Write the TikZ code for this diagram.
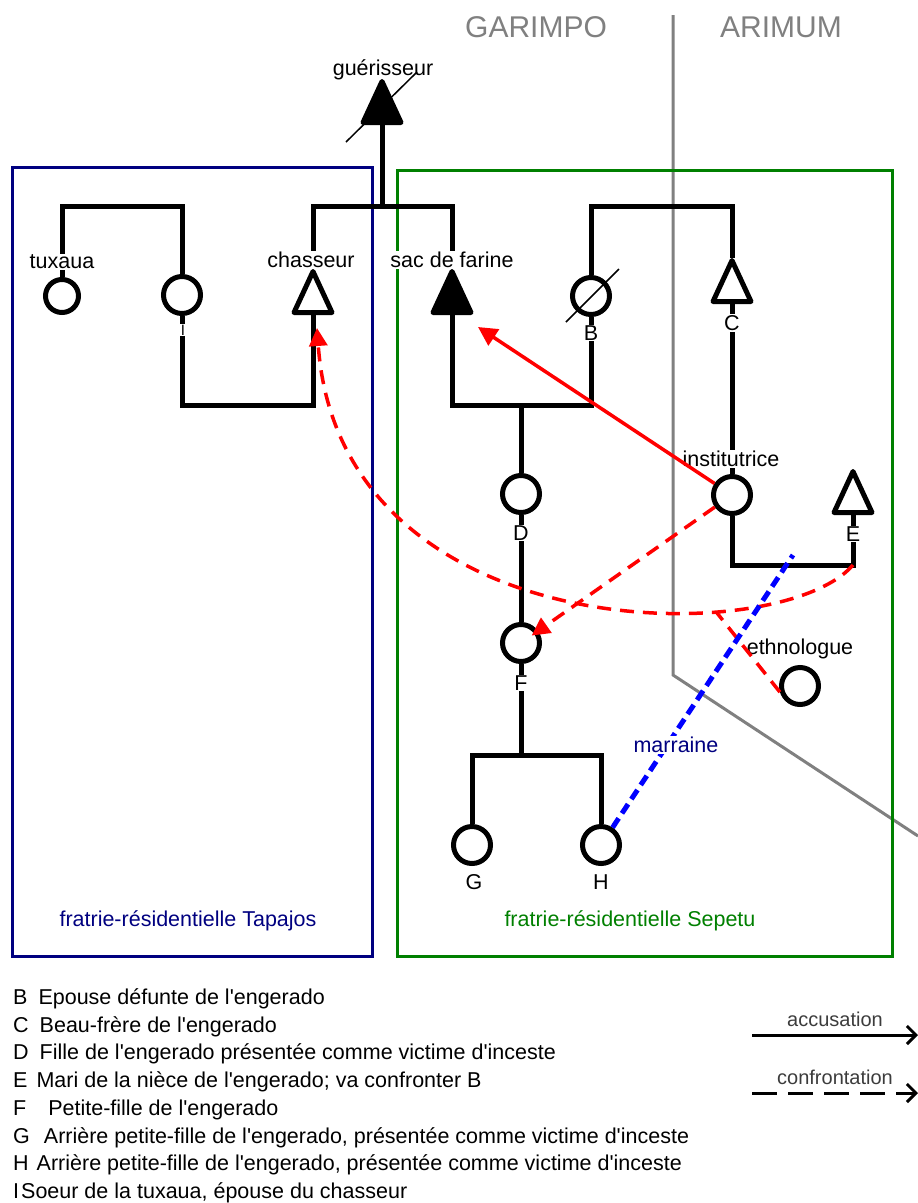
\documentclass[tikz,border=0pt]{standalone}
\usepackage{fontspec}
\setmainfont{Liberation Sans}
\usetikzlibrary{arrows.meta}
\definecolor{bleunuit}{RGB}{0,0,128}
\definecolor{vertfratrie}{RGB}{0,128,0}
\definecolor{grisligne}{RGB}{128,128,128}
\definecolor{grislegende}{RGB}{60,60,60}
\newcommand{\apo}{\textquotesingle}
\tikzset{
  lien/.style={line width=5pt},
  femme/.style={circle, draw, line width=5pt, fill=white, minimum size=37pt, inner sep=0pt},
  nom/.style={fill=white, inner sep=1pt, font=\fontsize{21.5}{24}\selectfont},
  barre/.style={line width=1.5pt},
  accus/.style={red, line width=3.5pt, -{Triangle[length=19pt,width=19pt]}},
  confr/.style={red, line width=3.5pt, dash pattern=on 14pt off 9pt},
  pointe/.style={-{Triangle[length=18pt,width=18pt]}},
  marraine/.style={blue, line width=5pt, dash pattern=on 11pt off 6pt},
  legende/.style={anchor=base west, inner sep=0pt, font=\fontsize{21.5}{24}\selectfont},
  pics/homme/.style={code={
    \draw[line width=5pt, line join=round, fill=#1] (0,-21) -- (19,20) -- (-19,20) -- cycle;
    \coordinate (-haut) at (0,-23.5);
    \coordinate (-bas) at (0,22.5);
  }}
}
\begin{document}
\begin{tikzpicture}[x=1pt, y=-1pt]
    \useasboundingbox (0,0) rectangle (918,1203);

    % Zones
    \draw[grisligne, line width=3pt] (673,15) -- (673,675) -- (918,836);
    \node[grisligne, font=\fontsize{30}{32}\selectfont] (garimpo) at (536,27) {GARIMPO};
    \node[grisligne, font=\fontsize{30}{32}\selectfont] (arimum) at (781,27) {ARIMUM};

    % Fratries
    \draw[bleunuit, line width=3pt] (12,167) rectangle (372,956);
    \draw[vertfratrie, line width=3pt] (397,170) rectangle (892,956);
    \node[nom, text=bleunuit] (tapajos) at (188,921) {fratrie-résidentielle Tapajos};
    \node[nom, text=vertfratrie] (sepetu) at (630,921) {fratrie-résidentielle Sepetu};

    % Hommes
    \pic (guerisseur) at (382,102.5) {homme=black};
    \pic (chasseur) at (313,292.5) {homme=white};
    \pic (sac) at (452,292.5) {homme=black};
    \pic (C) at (732,281.5) {homme=white};
    \pic (E) at (853,492.5) {homme=white};

    % Femmes
    \node[femme, minimum size=33pt] (tuxaua) at (62,296) {};
    \node[femme] (soeur) at (182,295) {};
    \node[femme] (B) at (591,296) {};
    \node[femme] (institutrice) at (732,495) {};
    \node[femme] (D) at (521,494) {};
    \node[femme] (F) at (521,643) {};
    \node[femme] (G) at (472,845) {};
    \node[femme] (H) at (601,845) {};
    \node[femme] (ethnologue) at (800,686) {};

    % Parente
    \coordinate (fratrieG) at (122,206);
    \draw[lien] (tuxaua.north) |- (fratrieG) -| (soeur.north);
    \coordinate (fratrieH) at (382,206);
    \draw[lien] (guerisseur-bas) -- (fratrieH);
    \draw[lien] (chasseur-haut) |- (fratrieH) -| (sac-haut);
    \coordinate (mariageG) at (247,405);
    \draw[lien] (soeur.south) |- (mariageG) -| (chasseur-bas);
    \coordinate (fratrieB) at (662,206);
    \draw[lien] (B.north) |- (fratrieB) -| (C-haut);
    \coordinate (mariageB) at (521,405);
    \draw[lien] (sac-bas) |- (mariageB) -| (B.south);
    \draw[lien] (mariageB) -- (D.north);
    \draw[lien] (C-bas) -- (institutrice.north);
    \draw[lien] (D.south) -- (F.north);
    \coordinate (fratrieF) at (521,755);
    \draw[lien] (F.south) -- (fratrieF);
    \draw[lien] (G.north) |- (fratrieF) -| (H.north);
    \coordinate (mariageE) at (792,565);
    \draw[lien] (institutrice.south) |- (mariageE) -| (E-bas);

    % Noms
    \node[font=\fontsize{21.5}{24}\selectfont] (nom-guerisseur) at (383,70) {guérisseur};
    \draw[barre] (346,142) -- (417,72);
    \node[nom] (nom-tuxaua) at (62,262) {tuxaua};
    \node[nom] (nom-chasseur) at (311,260) {chasseur};
    \node[nom] (nom-sac) at (452,260) {sac de farine};
    \node[nom] (nom-institutrice) at (731,459) {institutrice};
    \node[nom] (nom-ethnologue) at (800,649) {ethnologue};
    \node[nom, inner sep=0.5pt, font=\fontsize{15}{16}\selectfont] (nom-I) at (183,330) {I};
    \node[nom] (nom-B) at (591,333) {B};
    \draw[barre] (566,322) -- (619,269);
    \node[nom] (nom-C) at (732,323) {C};
    \node[nom] (nom-D) at (521,533) {D};
    \node[nom] (nom-E) at (853,534) {E};
    \node[nom] (nom-F) at (521,683) {F};
    \node[nom] (nom-G) at (474,882) {G};
    \node[nom] (nom-H) at (601,882) {H};

    % Accusation et confrontations
    \coordinate (pointeSac) at (478,327);
    \draw[accus] (institutrice) -- (pointeSac);
    \draw[confr, pointe, shorten >=-8pt] (institutrice) -- (F);
    \coordinate (pointeChasseur) at (317,328);
    \draw[confr, pointe] (E-bas |- mariageE) .. controls (780,650) and (340,650) .. (pointeChasseur)
        coordinate[pos=0.29] (jonction);
    \draw[confr] (ethnologue.197) -- (jonction);

    % Marraine
    \coordinate (pointeMarraine) at (793,555);
    \draw[marraine] (H) -- (pointeMarraine);
    \node[nom, text=bleunuit] (nom-marraine) at (676,745) {marraine};

    % Legende
    \node[legende] (leg-B) at (13,1004.5) {B\hspace{11pt}Epouse défunte de l\apo engerado};
    \node[legende] (leg-C) at (13,1032.2) {C\hspace{11pt}Beau-frère de l\apo engerado};
    \node[legende] (leg-D) at (13,1059.9) {D\hspace{11pt}Fille de l\apo engerado présentée comme victime d\apo inceste};
    \node[legende] (leg-E) at (13,1087.6) {E\hspace{9pt}Mari de la nièce de l\apo engerado; va confronter B};
    \node[legende] (leg-F) at (13,1115.3) {F\hspace{22pt}Petite-fille de l\apo engerado};
    \node[legende] (leg-G) at (13,1143) {G\hspace{14pt}Arrière petite-fille de l\apo engerado, présentée comme victime d\apo inceste};
    \node[legende] (leg-H) at (13,1170.7) {H\hspace{8pt}Arrière petite-fille de l\apo engerado, présentée comme victime d\apo inceste};
    \node[legende] (leg-I) at (13,1198.4) {I\hspace{2pt}Soeur de la tuxaua, épouse du chasseur};

    \coordinate (accDebut) at (752,1035);
    \coordinate (accFin) at (918,1035);
    \draw[line width=3pt, -{Straight Barb[length=9pt,width=18pt]}] (accDebut) -- (accFin)
        node[midway, above=3pt, grislegende, font=\fontsize{20}{22}\selectfont] (leg-accusation) {accusation};
    \coordinate (confDebut) at (752,1093);
    \coordinate (confFin) at (918,1093);
    \draw[line width=3pt, dash pattern=on 25pt off 11pt, -{Straight Barb[length=9pt,width=18pt]}] (confDebut) -- (confFin)
        node[midway, above=3pt, grislegende, font=\fontsize{20}{22}\selectfont] (leg-confrontation) {confrontation};
\end{tikzpicture}
\end{document}
